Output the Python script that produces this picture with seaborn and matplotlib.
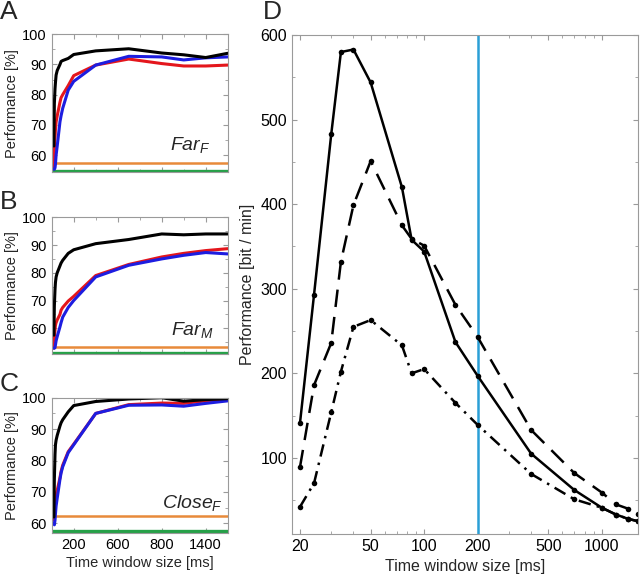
import numpy as np
import pandas as pd
import matplotlib
matplotlib.use('Agg')
import matplotlib.pyplot as plt
import seaborn as sns
from matplotlib.ticker import MultipleLocator, LogLocator, NullFormatter

# --- data ---
windows = [20, 24, 30, 34, 40, 50, 75, 85, 100, 150, 200, 400, 700, 1000, 1200, 1400, 1600]

# panel A: Far_F
a_black = [63, 77, 82, 84, 86.5, 88, 90, 91, 91.3, 92, 93.3, 94.5, 95.2, 93.8, 93.2, 92.3, 93.7]
a_red = [55.5, 62, 66, 68.5, 71, 73, 77.5, 79, 80, 83, 86.3, 89.8, 91.8, 90.3, 89.5, 89.5, 89.8]
a_blue = [55.3, 55.3, 55.8, 57, 60, 63, 71, 73, 75.5, 81.5, 84.4, 89.8, 92.7, 92.5, 91.5, 92.2, 92.5]
a_orange = 57.3
a_green = 54.7

# panel B: Far_M
b_black = [57.5, 68, 74, 76.5, 78.5, 80, 82.5, 83.5, 84.5, 87, 88.3, 90.5, 92, 94, 93.7, 94, 94]
b_red = [52.8, 56, 59.5, 61, 62, 63, 65, 66.5, 67.5, 69.8, 71.5, 79, 83, 85.7, 87, 88, 88.7]
b_blue = [52.8, 52.8, 53, 54, 55.5, 57, 60.5, 62, 64, 67.5, 70, 78.5, 82.7, 85, 86.3, 87.3, 86.8]
b_orange = 53.4
b_green = 51.0

# panel C: Close_F
c_black = [62, 74, 82, 85, 86.5, 88, 91, 92, 93, 95.5, 97.5, 98.8, 99.6, 100, 98.9, 99.4, 99.7]
c_red = [61, 66, 67.5, 68.5, 69.5, 70.5, 74.5, 76.5, 78.5, 82.8, 85.2, 95, 97.8, 98.3, 98.2, 99, 99.5]
c_blue = [60, 59.5, 61, 63, 65.5, 68, 74, 76, 78, 82.5, 85, 95, 97.6, 97.7, 97.3, 98.2, 99]
c_orange = 62.2
c_green = 57.4

# panel D: bit rate
d_solid = [141, 293, 483, 580, 583, 544, 420, 358, 344, 237, 197, 105, 62, 41, 33, 28, 25]
d_dashed = [89, 186, 236, 332, 399, 451, 375, 359, 351, 281, 243, 133, 82, 59, 45, 40, 34]
d_dashdot = [42, 70, 154, 202, 255, 263, 233, 200, 205, 165, 139, 81, 51, 41, 33, 28, 25]

small_xticks = [200, 600, 1000, 1400]
small_xticklabels = ['200', '600', '800', '1400']
d_xticks = [20, 50, 100, 200, 500, 1000]

RED = '#e4161c'
BLUE = '#1d1de0'
ORANGE = '#e88a3a'
GREEN = '#26a048'
CYAN = '#2a9fd6'
GRAY = '#9a9a9a'

sns.set_style('ticks')
plt.rcParams['font.family'] = ['Liberation Sans', 'DejaVu Sans']
plt.rcParams['mathtext.fontset'] = 'custom'
plt.rcParams['mathtext.it'] = 'Liberation Sans:italic'
plt.rcParams['mathtext.rm'] = 'Liberation Sans'


def style_axis(ax, size=10.5):
    for sp in ax.spines.values():
        sp.set_color(GRAY)
        sp.set_linewidth(0.8)
    ax.tick_params(which='both', direction='in', top=True, right=True,
                   color=GRAY, labelcolor='black', labelsize=size)
    ax.tick_params(which='major', length=3.5)
    ax.tick_params(which='minor', length=2)


fig = plt.figure(figsize=(6.4, 5.76), dpi=100)

panels = [
    ('A', [0.0808, 0.7009, 0.275, 0.2396], a_black, a_red, a_blue, a_orange, a_green,
     (54.3, 100), r'$Far_F$', (0.90, 0.16)),
    ('B', [0.0808, 0.3849, 0.275, 0.2378], b_black, b_red, b_blue, b_orange, b_green,
     (50.6, 100), r'$Far_M$', (0.92, 0.14)),
    ('C', [0.0808, 0.0741, 0.275, 0.2354], c_black, c_red, c_blue, c_orange, c_green,
     (56.8, 100), r'$Close_F$', (0.97, 0.19)),
]

for letter, rect, blk, red, blu, orng, grn, ylim, name, npos in panels:
    ax = fig.add_axes(rect)
    ax.axhline(grn, color=GREEN, lw=2.4)
    ax.axhline(orng, color=ORANGE, lw=1.8)
    sns.lineplot(x=windows, y=red, ax=ax, color=RED, lw=2.2)
    sns.lineplot(x=windows, y=blu, ax=ax, color=BLUE, lw=2.2)
    sns.lineplot(x=windows, y=blk, ax=ax, color='black', lw=2.2)
    ax.set_xlim(0, 1600)
    ax.set_ylim(*ylim)
    ax.set_yticks([60, 70, 80, 90, 100])
    ax.yaxis.set_minor_locator(MultipleLocator(5))
    ax.xaxis.set_minor_locator(MultipleLocator(200))
    if letter == 'C':
        ax.set_xticks(small_xticks, labels=small_xticklabels)
        ax.set_xlabel('Time window size [ms]', fontsize=10.5, labelpad=3)
    else:
        ax.set_xticks(small_xticks, labels=[''] * len(small_xticks))
    ax.set_ylabel('Performance [%]', fontsize=10.5, labelpad=2)
    ax.text(npos[0], npos[1], name, transform=ax.transAxes, ha='right',
            va='baseline', fontsize=14)
    style_axis(ax)

axd = fig.add_axes([0.456, 0.073, 0.541, 0.866])
axd.axvline(200, color=CYAN, lw=1.8)
sns.lineplot(x=windows, y=d_solid, ax=axd, color='black', lw=1.8,
             marker='o', markersize=4, markeredgewidth=0)
sns.lineplot(x=windows, y=d_dashed, ax=axd, color='black', lw=1.8,
             marker='o', markersize=4, markeredgewidth=0, linestyle=(0, (7, 4)))
sns.lineplot(x=windows, y=d_dashdot, ax=axd, color='black', lw=1.8,
             marker='o', markersize=4, markeredgewidth=0, linestyle=(0, (5, 2.5, 1, 2.5)))
axd.set_xscale('log')
axd.set_xlim(18, 1600)
axd.set_ylim(10, 600)
axd.set_xticks(d_xticks, labels=[str(v) for v in d_xticks])
axd.xaxis.set_minor_locator(LogLocator(base=10, subs=np.arange(2, 10)))
axd.xaxis.set_minor_formatter(NullFormatter())
axd.yaxis.set_major_locator(MultipleLocator(100))
axd.yaxis.set_minor_locator(MultipleLocator(50))
axd.set_xlabel('Time window size [ms]', fontsize=11.5, labelpad=4)
axd.set_ylabel('Performance [bit / min]', fontsize=11.5, labelpad=4)
style_axis(axd, size=11.5)

for letter, x, y in [('A', 0.0, 1.0), ('B', 0.0, 0.67), ('C', 0.0, 0.355), ('D', 0.41, 1.0)]:
    fig.text(x, y, letter, fontsize=19, ha='left', va='top')

fig.savefig('out.png', dpi=100)
